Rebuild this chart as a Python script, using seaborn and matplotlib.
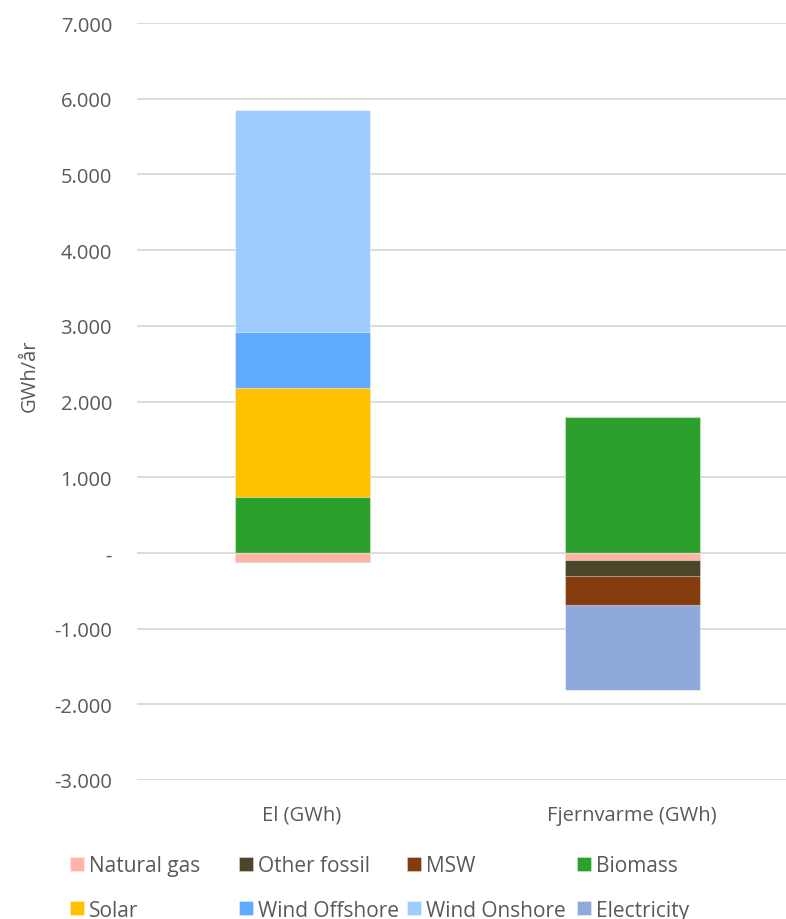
import matplotlib
matplotlib.use("Agg")
import matplotlib.pyplot as plt
from matplotlib.patches import Patch
from matplotlib.ticker import FuncFormatter
import numpy as np
import pandas as pd
import seaborn as sns

# Energy mix per sector (GWh/year); negative values are reductions
categories = ["El (GWh)", "Fjernvarme (GWh)"]
natural_gas = [-120, -88]
other_fossil = [0, -216]
msw = [0, -387]
biomass = [740, 1800]
solar = [1440, 0]
wind_offshore = [740, 0]
wind_onshore = [2930, 0]
electricity = [0, -1119]

series_names = ["Natural gas", "Other fossil", "MSW", "Biomass",
                "Solar", "Wind Offshore", "Wind Onshore", "Electricity"]
colors = {
    "Natural gas": "#FFB5A5",
    "Other fossil": "#4A4629",
    "MSW": "#843C0C",
    "Biomass": "#2CA02C",
    "Solar": "#FFC000",
    "Wind Offshore": "#60AAFF",
    "Wind Onshore": "#9FCCFF",
    "Electricity": "#8EAADC",
}
values = {
    "Natural gas": natural_gas, "Other fossil": other_fossil, "MSW": msw,
    "Biomass": biomass, "Solar": solar, "Wind Offshore": wind_offshore,
    "Wind Onshore": wind_onshore, "Electricity": electricity,
}

sns.set_theme(style="white")
plt.rcParams["font.family"] = ["Open Sans", "DejaVu Sans"]
text_color = "#595959"
tick_size = 14.5
legend_size = 15

fig = plt.figure(figsize=(7.86, 9.2), dpi=100)
ax = fig.add_axes([137 / 786, 139 / 920, 649 / 786, 757 / 920])

# Positive parts stack upward from zero, negative parts downward
pos_order = ["Biomass", "Solar", "Wind Offshore", "Wind Onshore"]
neg_order = ["Natural gas", "Other fossil", "MSW", "Electricity"]

def layered(order, sign):
    rows = []
    running = np.zeros(len(categories))
    for name in order:
        v = np.array(values[name], dtype=float)
        v = np.where(sign * v > 0, v, 0)
        running = running + v
        rows.append((name, running.copy()))
    return rows

edge = (1, 1, 1, 0.45)
layers = layered(pos_order, 1)[::-1] + layered(neg_order, -1)[::-1]
for name, cum in layers:
    df = pd.DataFrame({"cat": categories, "val": cum})
    sns.barplot(data=df, x="cat", y="val", color=colors[name], saturation=1,
                width=135 / 330, edgecolor=edge, linewidth=0.8,
                errorbar=None, ax=ax, zorder=3)

ax.set_ylim(-3000, 7000)
ax.set_xlim(-0.5, -0.5 + 649 / 330)
ax.set_yticks(np.arange(-3000, 7001, 1000))

def fmt(v, _):
    if abs(v) < 1e-9:
        return "-"
    return f"{v:,.0f}".replace(",", ".")

ax.yaxis.set_major_formatter(FuncFormatter(fmt))
ax.grid(axis="y", color="#D9D9D9", linewidth=1.3, zorder=0)
ax.grid(axis="x", visible=False)
for s in ax.spines.values():
    s.set_visible(False)
ax.tick_params(axis="both", length=0, labelsize=tick_size, labelcolor=text_color)
ax.tick_params(axis="x", pad=18)
ax.tick_params(axis="y", pad=18)
ax.set_xlabel("")
ax.set_ylabel("GWh/år", fontsize=tick_size, color=text_color)
ax.yaxis.set_label_coords(-(137 - 40) / 649, 0.535)

# Legend: two rows of four, one fixed-width column per legend block
columns = [("Natural gas", "Solar"), ("Other fossil", "Wind Offshore"),
           ("MSW", "Wind Onshore"), ("Biomass", "Electricity")]
col_x = [70, 239, 407, 577]
for x, names in zip(col_x, columns):
    hs = [Patch(facecolor=colors[n], edgecolor=edge, linewidth=0.5) for n in names]
    leg = fig.legend(hs, list(names), loc="center left",
                     bbox_to_anchor=(x / 786, 1 - 889 / 920),
                     frameon=False, fontsize=legend_size,
                     handlelength=0.65, handleheight=0.65, handletextpad=0.25,
                     labelspacing=1.12, borderaxespad=0, borderpad=0)
    for t in leg.get_texts():
        t.set_color(text_color)

fig.savefig("out.png", dpi=100)
